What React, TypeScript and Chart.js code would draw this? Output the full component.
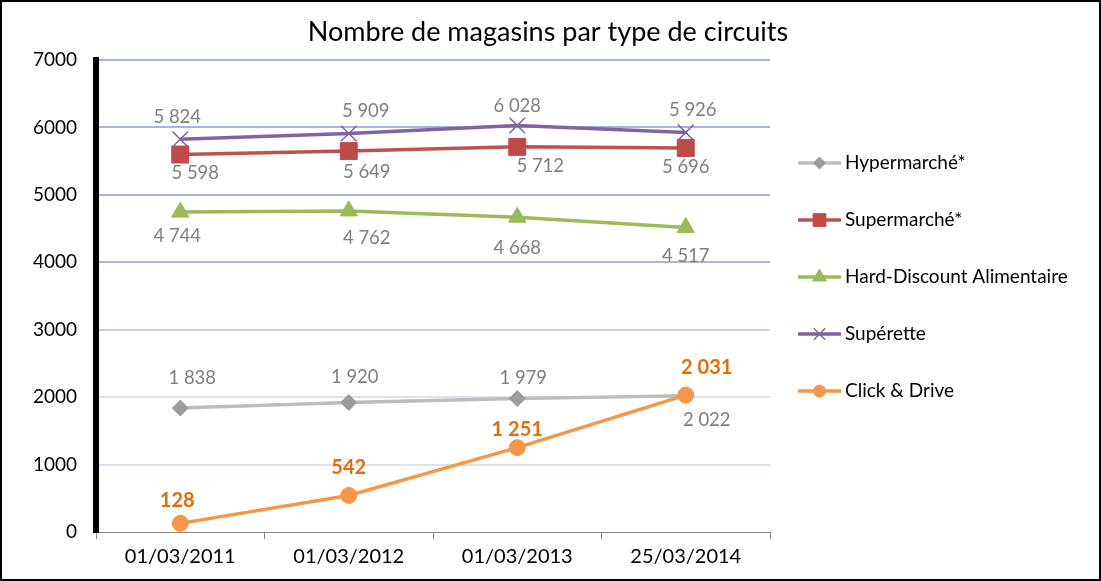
import React, { useEffect, useRef } from "react";
import { Chart, registerables } from "chart.js";
import { drawPoint } from "chart.js/helpers";

Chart.register(...registerables);

const TITLE = "Nombre de magasins par type de circuits";
const categories = ["01/03/2011", "01/03/2012", "01/03/2013", "25/03/2014"];
const seriesNames = ["Hypermarché*", "Supermarché*", "Hard-Discount Alimentaire", "Supérette", "Click & Drive"];
const hyperValues = [1838, 1920, 1979, 2022];
const superValues = [5598, 5649, 5712, 5696];
const hardValues = [4744, 4762, 4668, 4517];
const superetteValues = [5824, 5909, 6028, 5926];
const clickValues = [128, 542, 1251, 2031];
const yMin = 0;
const yMax = 7000;
const yStep = 1000;

const FONT = "Lato, 'Open Sans', sans-serif";

// label placement (style only)
const labelDx = [
  [12, 6, 6, 21],
  [15, 18, 23, 0],
  [-3, 18, 0, 0],
  [-3, 17, 0, 7],
  [-3, 0, 0, 21],
];
const labelDy = [
  [-30, -26, -21, 24],
  [18, 21, 19, 19],
  [24, 27, 31, 29],
  [-22, -23, -20, -22],
  [-23, -28, -18, -28],
];

function fmt(v: number): string {
  const s = String(Math.round(v));
  return s.replace(/\B(?=(\d{3})+(?!\d))/g, " ");
}

const styles = [
  { line: "#bdbdbd", point: "#9c9c9c", style: "rectRot", r: 8, lr: 6, pw: 1 },
  { line: "#c0504d", point: "#be4b48", style: "rect", r: 12, lr: 9, pw: 1 },
  { line: "#9bbb59", point: "#9bbb59", style: "triangle", r: 10, lr: 8, pw: 1 },
  { line: "#8064a2", point: "#8064a2", style: "crossRot", r: 11, lr: 8, pw: 1.5 },
  { line: "#f79646", point: "#f79646", style: "circle", r: 8, lr: 6, pw: 1 },
];

const labelsPlugin = {
  id: "valueLabels",
  afterDatasetsDraw(chart: any) {
    const ctx = chart.ctx;
    ctx.save();
    ctx.textAlign = "center";
    ctx.textBaseline = "middle";
    chart.data.datasets.forEach((ds: any, i: number) => {
      const meta = chart.getDatasetMeta(i);
      const bold = i === 4;
      ctx.font = bold ? `bold 20px ${FONT}` : `18.5px ${FONT}`;
      ctx.fillStyle = bold ? "#e46c0a" : "#7f7f7f";
      meta.data.forEach((el: any, j: number) => {
        ctx.fillText(fmt(ds.data[j]), el.x + labelDx[i][j], el.y + labelDy[i][j]);
      });
    });
    ctx.restore();
  },
};

const legendPlugin = {
  id: "customLegend",
  afterDraw(chart: any) {
    const ctx = chart.ctx;
    ctx.save();
    // title
    ctx.fillStyle = "#000000";
    ctx.font = `27px ${FONT}`;
    ctx.textAlign = "center";
    ctx.textBaseline = "middle";
    ctx.fillText(TITLE, 548, 32);
    const x0 = 798;
    const x1 = 841;
    const y0 = 163;
    const gap = 57;
    chart.data.datasets.forEach((ds: any, i: number) => {
      const st = styles[i];
      const y = y0 + i * gap;
      ctx.strokeStyle = st.line;
      ctx.lineWidth = 3.5;
      ctx.beginPath();
      ctx.moveTo(x0, y);
      ctx.lineTo(x1, y);
      ctx.stroke();
      ctx.fillStyle = st.point;
      ctx.strokeStyle = st.point;
      ctx.lineWidth = st.pw;
      drawPoint(ctx, { pointStyle: st.style, radius: st.lr, rotation: 0, borderWidth: st.pw }, (x0 + x1) / 2, y);
      ctx.fillStyle = "#000000";
      ctx.font = `19px ${FONT}`;
      ctx.textAlign = "left";
      ctx.textBaseline = "middle";
      ctx.fillText(ds.label, 845, y);
    });
    // outer frame
    ctx.strokeStyle = "#000000";
    ctx.lineWidth = 2;
    ctx.strokeRect(1, 1, chart.width - 2, chart.height - 2);
    ctx.restore();
  },
};

export default function App() {
  const ref = useRef<HTMLCanvasElement | null>(null);
  useEffect(() => {
    document.body.style.margin = "0";
    const canvas = ref.current!;
    const allData = [hyperValues, superValues, hardValues, superetteValues, clickValues];
    const chart = new Chart(canvas, {
      type: "line",
      data: {
        labels: categories,
        datasets: allData.map((d, i) => ({
          label: seriesNames[i],
          data: d,
          borderColor: styles[i].line,
          backgroundColor: styles[i].point,
          pointBackgroundColor: styles[i].point,
          pointBorderColor: styles[i].point,
          pointBorderWidth: styles[i].pw,
          pointStyle: styles[i].style as any,
          pointRadius: styles[i].r,
          borderWidth: 3.5,
          tension: 0,
          fill: false,
          order: i === 4 ? 0 : i + 1,
        })),
      },
      options: {
        responsive: false,
        animation: false,
        devicePixelRatio: 1,
        layout: { padding: { left: 0, right: 331, top: 60, bottom: 0 } },
        plugins: {
          legend: { display: false },
          tooltip: { enabled: false },
          title: { display: false },
        },
        scales: {
          x: {
            type: "category",
            offset: true,
            grid: {
              offset: true,
              drawOnChartArea: false,
              drawTicks: true,
              tickLength: 7,
              color: "#868686",
              lineWidth: 1,
            },
            border: { display: true, color: "#868686", width: 1 },
            ticks: { color: "#000000", font: { family: FONT, size: 20 }, padding: 6, maxRotation: 0 },
            afterFit(scale: any) {
              scale.height = 49;
            },
          },
          y: {
            min: yMin,
            max: yMax,
            ticks: {
              stepSize: yStep,
              color: "#000000",
              font: { family: FONT, size: 19 },
              padding: 19,
              callback: (v: any) => String(v),
            },
            grid: {
              drawTicks: false,
              lineWidth: 2,
              color: (c: any) => {
                const v = c.tick ? c.tick.value : 0;
                if (v === 0) return "rgba(0,0,0,0)";
                if (v >= 4000) return "#a3b7d9";
                if (v >= 3000) return "#c6cfe3";
                return "#dbe1ee";
              },
            },
            border: { display: true, color: "#000000", width: 6 },
            afterFit(scale: any) {
              scale.width = 96;
            },
          },
        },
      },
      plugins: [labelsPlugin, legendPlugin],
    } as any);
    return () => chart.destroy();
  }, []);
  return <canvas ref={ref} width={1101} height={581} style={{ display: "block", width: 1101, height: 581 }} />;
}
